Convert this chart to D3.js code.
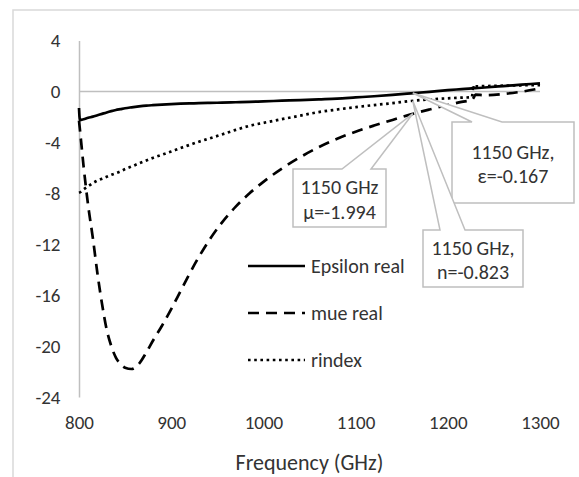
<!DOCTYPE html>
<html>
<head>
<meta charset="utf-8">
<script src="https://cdn.jsdelivr.net/npm/d3@7"></script>
<style>
  body { margin: 0; background: #fff; }
  svg { display: block; }
  text { font-family: Carlito, Calibri, Lato, sans-serif; fill: #333; }
</style>
</head>
<body>
<svg id="chart" width="579" height="477"></svg>
<script>

// frequency samples (GHz)
var freq = [800, 801, 805, 810, 815, 820, 825, 830, 835, 840, 845, 850, 857, 865, 873, 880, 890, 900, 910, 920,
    930, 942, 955, 970, 985, 1000, 1020, 1040, 1060, 1080, 1100, 1120, 1140, 1160, 1180, 1200, 1215, 1226, 1228, 1230,
    1240, 1260, 1280, 1300];

var epsilonReal = [-1.3, -2.25, -2.18, -2.07, -1.98, -1.87, -1.76, -1.65, -1.55, -1.46, -1.39, -1.32, -1.25, -1.18, -1.12, -1.08, -1.03, -0.99, -0.96, -0.94,
    -0.92, -0.9, -0.88, -0.85, -0.82, -0.78, -0.73, -0.68, -0.62, -0.56, -0.47, -0.38, -0.27, -0.15, -0.03, 0.1, 0.18, 0.24, 0.32, 0.26,
    0.31, 0.42, 0.53, 0.64];

var mueReal = [-2.3, -3.0, -5.9, -9.0, -11.5, -14.3, -16.7, -18.7, -20.0, -20.9, -21.4, -21.7, -21.8, -21.4, -20.5, -19.6, -18.4, -17.1, -15.7, -14.3,
    -13.0, -11.6, -10.3, -9.05, -8.0, -7.1, -6.06, -5.16, -4.38, -3.72, -3.16, -2.68, -2.24, -1.8, -1.42, -1.07, -0.82, -0.66, -0.5, -0.25,
    -0.3, -0.2, -0.02, 0.24];

var rindex = [-7.96, -7.93, -7.7, -7.45, -7.2, -7.0, -6.85, -6.7, -6.55, -6.42, -6.28, -6.1, -5.9, -5.65, -5.42, -5.22, -4.97, -4.72, -4.45, -4.2,
    -3.95, -3.68, -3.38, -3.02, -2.7, -2.47, -2.18, -1.9, -1.62, -1.42, -1.24, -1.07, -0.92, -0.75, -0.63, -0.54, -0.49, -0.45, 0.42, 0.4,
    0.42, 0.45, 0.48, 0.5];

var seriesNames = ["Epsilon real", "mue real", "rindex"];
var xTicks = [800, 900, 1000, 1100, 1200, 1300];
var yTicks = [4, 0, -4, -8, -12, -16, -20, -24];

// data labels (callouts) : where they point, and their text
var annoFreq = 1162;
var annoValues = [-0.12, -0.73, -1.75];
var annoText = [["1150 GHz,", "ε=-0.167"], ["1150 GHz,", "n=-0.823"], ["1150 GHz", "μ=-1.994"]];


var svg = d3.select("#chart");

// chart area border (cropped at right and bottom)
svg.append("rect")
    .attr("x", 13).attr("y", 10)
    .attr("width", 600).attr("height", 500)
    .attr("fill", "none")
    .attr("stroke", "#d9d9d9")
    .attr("stroke-width", 1.5);

var x = d3.scaleLinear().domain([800, 1300]).range([79, 540]);
var y = d3.scaleLinear().domain([-24, 4]).range([397, 40.5]);

function plain(d) { return String(d); }   // keep the ascii hyphen like the original

// y axis
var yAxis = svg.append("g")
    .attr("transform", "translate(79,0)")
    .call(d3.axisLeft(y).tickValues(yTicks).tickSize(0).tickSizeOuter(0).tickPadding(18.5).tickFormat(plain));
yAxis.select(".domain").attr("stroke", "#bfbfbf").attr("stroke-width", 1.5);
yAxis.selectAll("text").style("font-size", "19px").attr("fill", "#333");

// x axis labels at the bottom, axis line crosses at zero
var xAxis = svg.append("g")
    .attr("transform", "translate(0,397)")
    .call(d3.axisBottom(x).tickValues(xTicks).tickSize(0).tickPadding(19).tickFormat(plain));
xAxis.select(".domain").remove();
xAxis.selectAll("text").style("font-size", "19px").attr("fill", "#333");

svg.append("line")
    .attr("x1", x(800)).attr("x2", x(1300))
    .attr("y1", y(0)).attr("y2", y(0))
    .attr("stroke", "#bfbfbf")
    .attr("stroke-width", 1.5);

svg.append("text")
    .attr("x", (x(800) + x(1300)) / 2)
    .attr("y", 470)
    .attr("text-anchor", "middle")
    .style("font-size", "22px")
    .text("Frequency (GHz)");

// the three series
var dashes = [null, "11,7", "2.6,3.6"];
var allSeries = [epsilonReal, mueReal, rindex];

var line = d3.line()
    .x(function (d, i) { return x(freq[i]); })
    .y(function (d) { return y(d); })
    .curve(d3.curveMonotoneX);

allSeries.forEach(function (vals, k) {
    svg.append("path")
        .datum(vals)
        .attr("d", line)
        .attr("fill", "none")
        .attr("stroke", "#000")
        .attr("stroke-width", 2.7)
        .attr("stroke-dasharray", dashes[k]);
});

// legend
var legend = svg.append("g");
seriesNames.forEach(function (name, i) {
    var ly = 266 + i * 47;
    legend.append("line")
        .attr("x1", 248).attr("x2", 305)
        .attr("y1", ly).attr("y2", ly)
        .attr("stroke", "#000")
        .attr("stroke-width", 2.7)
        .attr("stroke-dasharray", dashes[i]);
    legend.append("text")
        .attr("x", 311)
        .attr("y", ly)
        .attr("dy", "0.35em")
        .style("font-size", "20px")
        .text(name);
});

// callout boxes: box rect and where the pointer leaves the top edge
var boxes = [
    { x0: 452, y0: 122, x1: 574, y1: 203, b1: 472, b2: 502 },
    { x0: 423, y0: 230, x1: 523, y1: 287, b1: 440, b2: 465 },
    { x0: 293, y0: 169, x1: 386, y1: 227, b1: 342, b2: 371 }
];

boxes.forEach(function (b, i) {
    var ax = x(annoFreq), ay = y(annoValues[i]);
    var p = d3.path();
    p.moveTo(b.x0, b.y0);
    p.lineTo(b.b1, b.y0);
    p.lineTo(ax, ay);
    p.lineTo(b.b2, b.y0);
    p.lineTo(b.x1, b.y0);
    p.lineTo(b.x1, b.y1);
    p.lineTo(b.x0, b.y1);
    p.closePath();
    svg.append("path")
        .attr("d", p.toString())
        .attr("fill", "#fff")
        .attr("stroke", "#bfbfbf")
        .attr("stroke-width", 1.5);

    var cx = (b.x0 + b.x1) / 2, cy = (b.y0 + b.y1) / 2 + 1.5;
    annoText[i].forEach(function (t, j) {
        svg.append("text")
            .attr("x", cx)
            .attr("y", cy + (j - 0.5) * 24.5)
            .attr("dy", "0.35em")
            .attr("text-anchor", "middle")
            .style("font-size", "20px")
            .text(t);
    });
});

</script>
</body>
</html>
